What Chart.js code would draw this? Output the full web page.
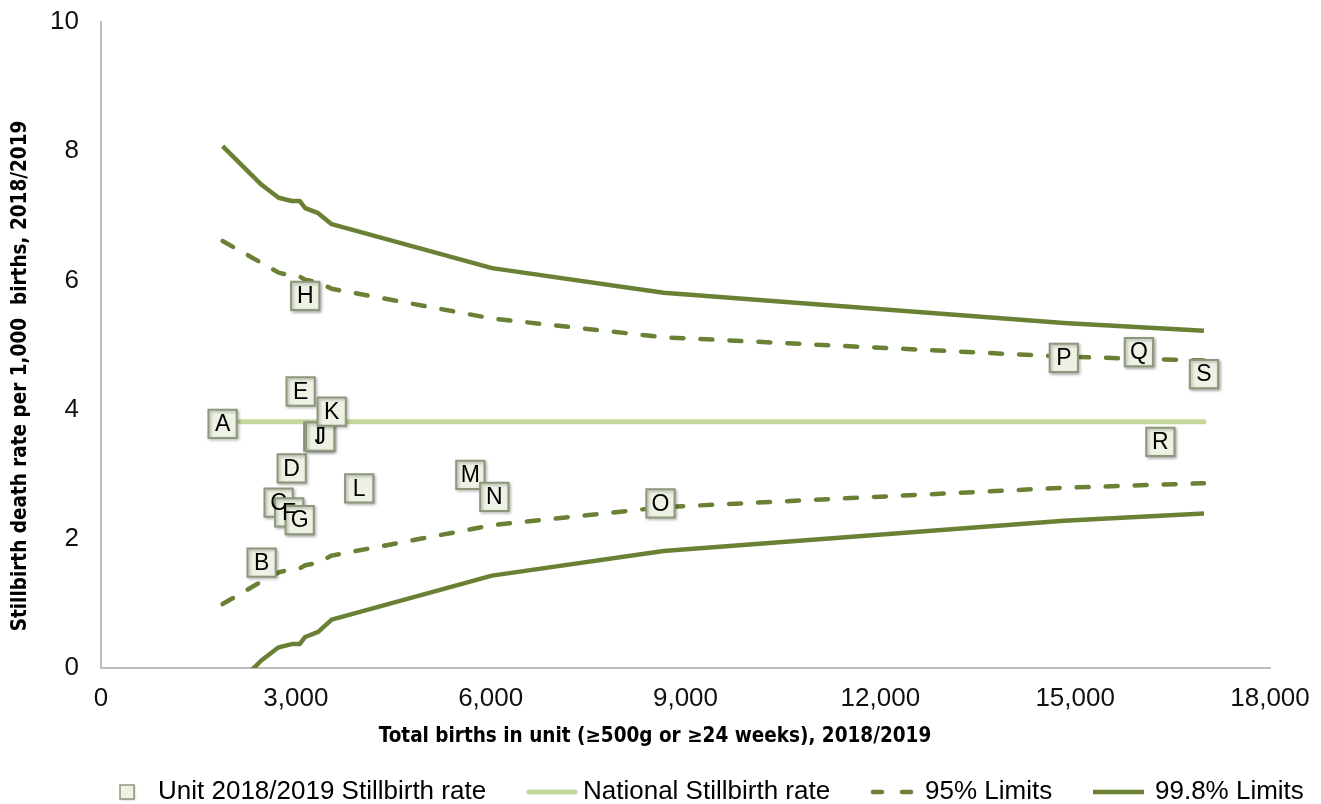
<!DOCTYPE html>
<html>
<head>
<meta charset="utf-8">
<script src="https://cdn.jsdelivr.net/npm/chart.js@4.4.1/dist/chart.umd.min.js"></script>
<style>
  html, body { margin: 0; padding: 0; background: #ffffff; }
  #wrap { width: 1321px; height: 804px; position: relative; }
</style>
</head>
<body>
<div id="wrap"><canvas id="funnel" width="1321" height="804"></canvas></div>
<script>
// Units: label, total births and stillbirth rate per 1,000 births
const unitLabels = ['A','B','C','D','E','F','G','H','I','J','K','L','M','N','O','P','Q','R','S'];
const unitBirths = [1872, 2473, 2735, 2936, 3074, 2897, 3059, 3144, 3345, 3375, 3552, 3976, 5687, 6056, 8615, 14825, 15981, 16312, 16983];
const unitRates  = [3.78, 1.63, 2.56, 3.09, 4.28, 2.41, 2.29, 5.76, 3.58, 3.58, 3.97, 2.78, 2.99, 2.65, 2.55, 4.80, 4.89, 3.50, 4.55];

// National rate, drawn across the range of unit sizes
const nationalRate = 3.81;
const nationalBirths = [1872, 16983];

// Control limits evaluated at unit sizes
const limitBirths = [1872, 2473, 2735, 2936, 3059, 3144, 3345, 3552, 6021, 8661, 14825, 16983];
const upper998 = [8.08, 7.48, 7.28, 7.23, 7.23, 7.12, 7.04, 6.87, 6.19, 5.81, 5.34, 5.22];
const lower998 = [-0.48, 0.12, 0.32, 0.37, 0.37, 0.48, 0.56, 0.75, 1.43, 1.81, 2.28, 2.39];
const upper95  = [6.61, 6.27, 6.12, 6.07, 6.06, 6.01, 5.97, 5.87, 5.41, 5.12, 4.82, 4.76];
const lower95  = [0.99, 1.34, 1.48, 1.53, 1.54, 1.59, 1.63, 1.74, 2.21, 2.49, 2.79, 2.86];

// Axis ticks
const xTicks = [0, 3000, 6000, 9000, 12000, 15000, 18000];
const yTicks = [0, 2, 4, 6, 8, 10];

const xTitle = 'Total births in unit (\u2265500g or \u226524 weeks), 2018/2019';
const yTitle = 'Stillbirth death rate per 1,000  births, 2018/2019';

const DARK = '#6a8135';
const LIGHT = '#c3d69b';
const BOX_FILL = '#eef2e5';
const BOX_EDGE = '#8d977b';
const FONT = '"Liberation Sans", Arial, sans-serif';
const TITLE_FONT = '"Liberation Sans Narrow", "DejaVu Sans Condensed", Arial, sans-serif';

const pts = (xs, ys) => xs.map((x, i) => ({ x: x, y: ys[i] }));

const lineDs = (label, ys, dashed) => ({
  type: 'scatter',
  label: label,
  data: pts(limitBirths, ys),
  showLine: true,
  borderColor: DARK,
  borderWidth: 4.5,
  borderDash: dashed ? [12, 17] : [],
  borderCapStyle: dashed ? 'round' : 'butt',
  borderJoinStyle: 'round',
  pointRadius: 0,
  pointHoverRadius: 0,
  fill: false,
  tension: 0
});

// Letter labels sit on top of all unit boxes
const unitLabelPlugin = {
  id: 'unitLabels',
  beforeDatasetDraw(chart, args) {
    if (args.index === 0) {
      const ctx = chart.ctx;
      ctx.save();
      ctx.shadowColor = 'rgba(0,0,0,0.28)';
      ctx.shadowBlur = 3;
      ctx.shadowOffsetX = 1.5;
      ctx.shadowOffsetY = 1.5;
    }
  },
  afterDatasetDraw(chart, args) {
    if (args.index === 0) chart.ctx.restore();
  },
  afterDatasetsDraw(chart) {
    const ctx = chart.ctx;
    const meta = chart.getDatasetMeta(0);
    ctx.save();
    ctx.font = '23px ' + FONT;
    ctx.fillStyle = '#000';
    ctx.textAlign = 'center';
    ctx.textBaseline = 'middle';
    meta.data.forEach((el, i) => {
      ctx.fillText(unitLabels[i], el.x, el.y + 1);
    });
    ctx.restore();
  }
};

// Axis titles and bottom legend
const decorPlugin = {
  id: 'decor',
  afterDraw(chart) {
    const ctx = chart.ctx;
    ctx.save();
    ctx.fillStyle = '#000';
    ctx.font = 'bold 20.5px ' + TITLE_FONT;
    ctx.textAlign = 'center';
    ctx.textBaseline = 'middle';
    ctx.fillText(xTitle, 655, 737);
    ctx.save();
    ctx.translate(21, 376);
    ctx.rotate(-Math.PI / 2);
    ctx.fillText(yTitle, 0, 0);
    ctx.restore();

    const ly = 792;
    const ds = chart.data.datasets;
    // unit box
    ctx.save();
    ctx.shadowColor = 'rgba(0,0,0,0.28)';
    ctx.shadowBlur = 2;
    ctx.shadowOffsetX = 1;
    ctx.shadowOffsetY = 1;
    ctx.fillStyle = BOX_FILL;
    ctx.fillRect(120, 785, 14, 14);
    ctx.restore();
    ctx.strokeStyle = BOX_EDGE;
    ctx.lineWidth = 1.5;
    ctx.strokeRect(120, 785, 14, 14);
    // national line
    ctx.strokeStyle = LIGHT;
    ctx.lineWidth = 5;
    ctx.lineCap = 'round';
    ctx.beginPath(); ctx.moveTo(529, ly); ctx.lineTo(575, ly); ctx.stroke();
    // 95% dashed
    ctx.strokeStyle = DARK;
    ctx.lineWidth = 4.5;
    ctx.setLineDash([9, 20]);
    ctx.beginPath(); ctx.moveTo(873, ly); ctx.lineTo(916, ly); ctx.stroke();
    ctx.setLineDash([]);
    // 99.8% solid
    ctx.lineCap = 'butt';
    ctx.beginPath(); ctx.moveTo(1093, ly); ctx.lineTo(1144, ly); ctx.stroke();

    ctx.font = '26px ' + FONT;
    ctx.textAlign = 'left';
    ctx.fillStyle = '#000';
    ctx.fillText(ds[0].label, 158, ly);
    ctx.fillText(ds[1].label, 583, ly);
    ctx.fillText(ds[2].label, 925, ly);
    ctx.fillText(ds[4].label, 1155, ly);
    ctx.restore();
  }
};

new Chart(document.getElementById('funnel'), {
  type: 'scatter',
  data: {
    datasets: [
      {
        label: 'Unit 2018/2019 Stillbirth rate',
        data: pts(unitBirths, unitRates),
        pointStyle: 'rect',
        pointRadius: 20,
        pointHoverRadius: 20,
        pointBackgroundColor: BOX_FILL,
        pointBorderColor: BOX_EDGE,
        pointBorderWidth: 2,
        showLine: false
      },
      {
        label: 'National Stillbirth rate',
        data: pts(nationalBirths, [nationalRate, nationalRate]),
        showLine: true,
        borderColor: LIGHT,
        borderWidth: 5,
        borderCapStyle: 'round',
        pointRadius: 0,
        pointHoverRadius: 0
      },
      lineDs('95% Limits', upper95, true),
      lineDs('95% Limits', lower95, true),
      lineDs('99.8% Limits', upper998, false),
      lineDs('99.8% Limits', lower998, false)
    ]
  },
  options: {
    responsive: false,
    animation: false,
    events: [],
    layout: { padding: { left: 0, right: 51, top: 22, bottom: 0 } },
    plugins: {
      legend: { display: false },
      tooltip: { enabled: false },
      title: { display: false }
    },
    scales: {
      x: {
        type: 'linear',
        min: 0,
        max: 18000,
        afterBuildTicks: s => { s.ticks = xTicks.map(v => ({ value: v })); },
        afterFit: s => {
          s.height = 136;
          s.paddingLeft = 0; s.paddingRight = 0;
          s.paddingTop = 0; s.paddingBottom = 0;
        },
        grid: { display: false, drawTicks: false },
        border: { display: true, color: '#bdbdbd', width: 2 },
        ticks: {
          padding: 15,
          maxRotation: 0,
          autoSkip: false,
          color: '#111',
          font: { family: FONT, size: 26 },
          callback: v => v.toLocaleString('en-US')
        }
      },
      y: {
        type: 'linear',
        min: 0,
        max: 10,
        afterBuildTicks: s => { s.ticks = yTicks.map(v => ({ value: v })); },
        afterFit: s => {
          s.width = 101;
          s.paddingLeft = 0; s.paddingRight = 0;
          s.paddingTop = 0; s.paddingBottom = 0;
        },
        grid: { display: false, drawTicks: false },
        border: { display: true, color: '#bdbdbd', width: 2 },
        ticks: {
          padding: 22,
          color: '#111',
          font: { family: FONT, size: 26 },
          callback: v => String(v)
        }
      }
    }
  },
  plugins: [unitLabelPlugin, decorPlugin]
});
</script>
</body>
</html>
